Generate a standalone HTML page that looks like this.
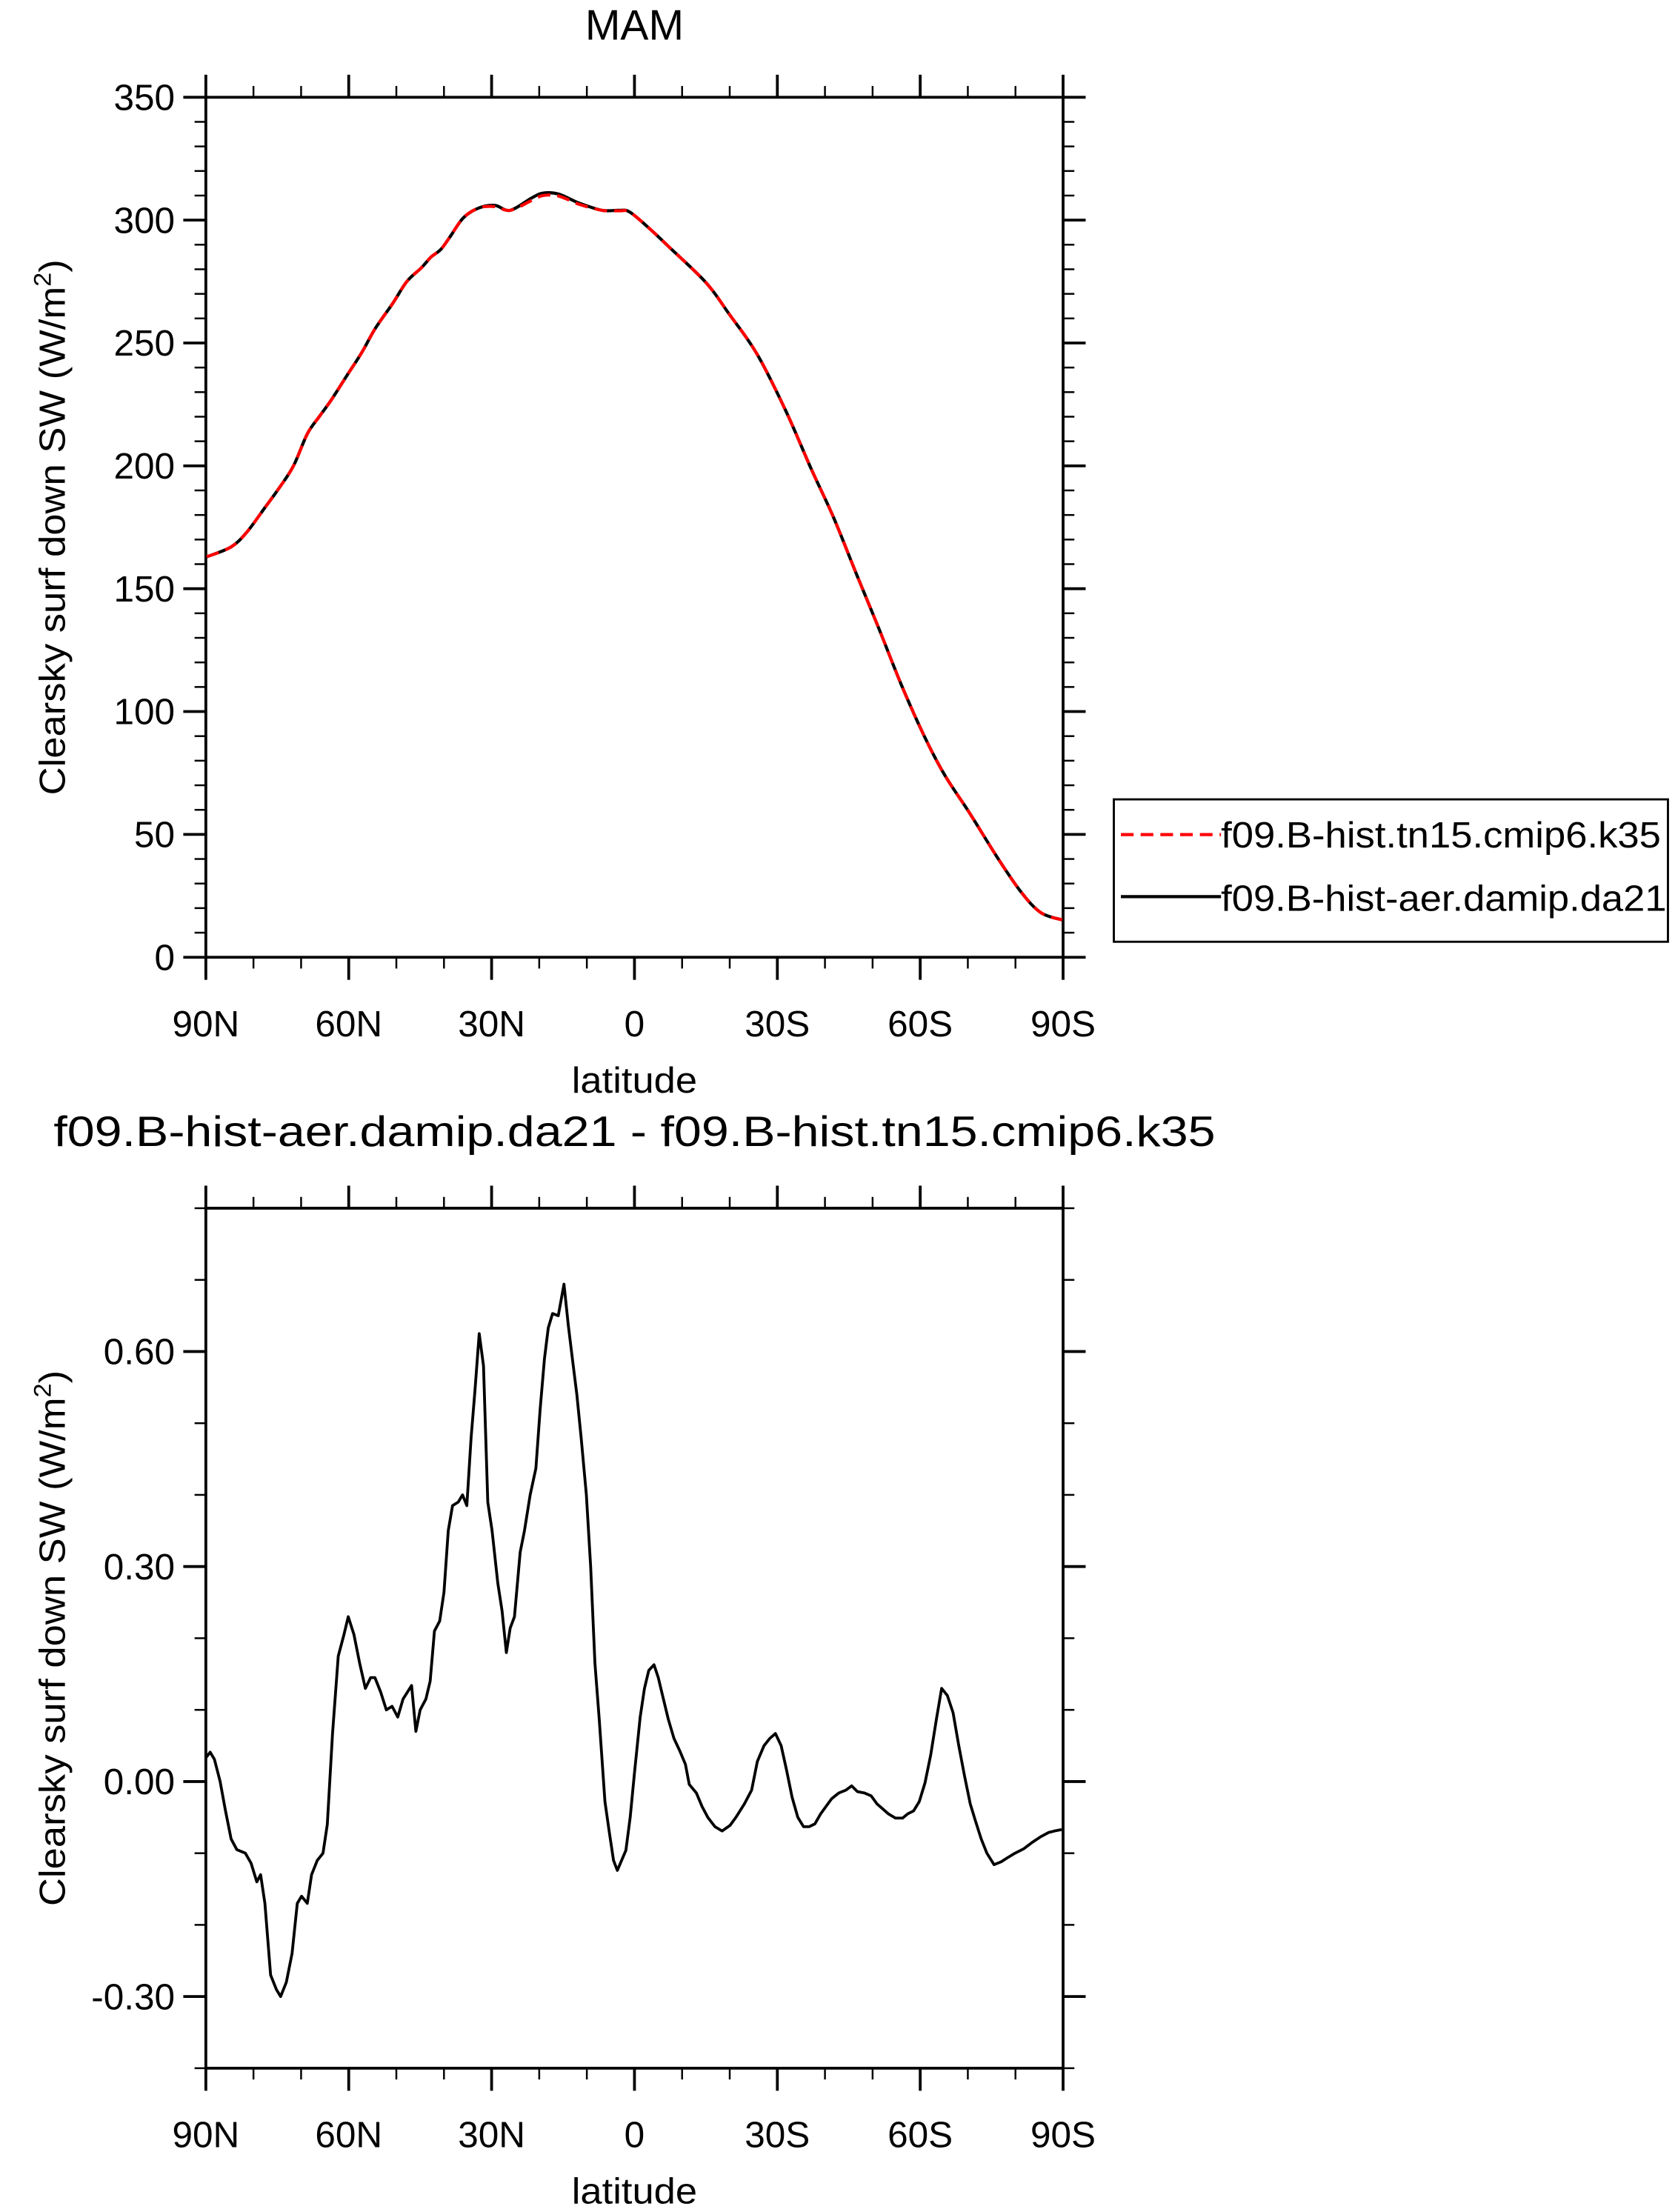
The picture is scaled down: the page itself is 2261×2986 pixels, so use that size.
<!DOCTYPE html>
<html><head><meta charset="utf-8"><style>
html,body{margin:0;padding:0;background:#fff;}
svg{display:block;}
text{font-family:"Liberation Sans",Arial,sans-serif;fill:#000;}
</style></head><body>
<svg id="chart" width="2261" height="2986" viewBox="0 0 1188 1569" preserveAspectRatio="none" xmlns="http://www.w3.org/2000/svg">
<g id="top"></g>
<g id="bot"></g>
</svg>
<script>
const topLat = [89.8,84.7,81.4,77.6,74.6,71.6,68.7,66.2,63.6,60.3,57.3,54.4,50.8,47.8,44.8,42.7,40.7,38.8,35.9,32.6,29.3,26.1,21.6,19.2,15.9,11.7,6.8,3.2,1.0,-3.2,-7.3,-15.0,-19.8,-25.7,-31.7,-37.1,-41.8,-46.6,-51.4,-56.1,-60.9,-65.1,-70.4,-76.4,-81.2,-85.3,-89.8];
const ctlVals = [163,167,173,183,191,200,213,220,227,237,246,256,266,275,280.5,285,288,293,301,305,305.5,304,308,310,309.8,306.5,304,303.8,303.3,296.5,289,274.6,262,245.6,222.7,198.8,179,156,133.4,110.6,89.8,74.3,58.6,40,26.5,18.2,15.2];
const expVals = [163,167,173,183,191,200,213,220,227,237,246,256,266,275,280.5,285,288,293,301,305,306,304,309,311,310.6,307,304,304,303.3,296.5,289,274.6,262,245.6,222.7,198.8,179,156,133.4,110.6,89.8,74.3,58.6,40,26.5,18.2,15.2];
const topYTicks = [0,50,100,150,200,250,300,350];
const xTickLats = [90,60,30,0,-30,-60,-90];
const xTickLabels = ["90N","60N","30N","0","30S","60S","90S"];
const diffLat = [90,89.1,88.2,87.0,85.9,84.7,83.5,81.7,80.5,79.3,78.5,77.6,76.4,75.2,74.3,73.1,71.9,70.8,69.9,68.7,67.8,66.6,65.4,64.5,63.4,62.2,61.0,60.1,58.9,57.7,56.5,55.4,54.5,53.3,52.1,50.9,49.7,48.6,46.8,45.9,45.0,43.8,42.9,42.0,40.9,40.0,39.1,38.2,37.0,36.1,35.2,34.3,33.5,32.6,31.7,30.8,29.9,28.7,27.8,26.9,26.1,25.2,24.0,23.1,21.9,20.7,19.8,18.9,18.1,17.2,16.0,14.8,13.9,13.0,12.1,11.2,10.1,9.2,8.3,7.4,6.2,5.3,4.4,3.6,2.7,1.8,0.9,0.0,-1.2,-2.1,-3.0,-4.1,-5.0,-5.9,-7.1,-8.3,-9.5,-10.7,-11.5,-13.0,-14.2,-15.4,-16.9,-18.4,-20.1,-21.3,-23.1,-24.6,-25.8,-27.2,-28.4,-29.6,-30.8,-31.9,-33.1,-34.3,-35.5,-36.7,-37.9,-39.1,-40.3,-41.4,-42.9,-44.4,-45.6,-46.8,-48.3,-49.7,-50.9,-52.1,-53.3,-54.8,-56.3,-57.4,-58.6,-59.8,-61.0,-62.2,-63.4,-64.5,-65.7,-66.9,-68.1,-69.3,-70.5,-71.6,-72.8,-74.0,-75.5,-77.0,-78.4,-79.9,-81.7,-83.5,-85.3,-87.0,-88.2,-89.7];
const diffVals = [0.033,0.041,0.031,0,-0.04,-0.08,-0.095,-0.1,-0.114,-0.14,-0.13,-0.17,-0.27,-0.29,-0.30,-0.28,-0.24,-0.17,-0.16,-0.17,-0.13,-0.11,-0.1,-0.06,0.067,0.175,0.205,0.23,0.205,0.165,0.13,0.145,0.145,0.125,0.10,0.105,0.09,0.115,0.134,0.07,0.10,0.115,0.14,0.21,0.224,0.264,0.35,0.385,0.39,0.4,0.385,0.48,0.545,0.625,0.58,0.39,0.35,0.277,0.238,0.18,0.214,0.23,0.32,0.35,0.4,0.437,0.52,0.59,0.633,0.653,0.65,0.694,0.637,0.588,0.54,0.48,0.4,0.3,0.165,0.087,-0.028,-0.07,-0.11,-0.124,-0.11,-0.096,-0.05,0.012,0.09,0.13,0.155,0.163,0.145,0.12,0.087,0.06,0.043,0.024,-0.004,-0.016,-0.035,-0.05,-0.063,-0.069,-0.061,-0.05,-0.031,-0.012,0.028,0.05,0.06,0.067,0.05,0.017,-0.022,-0.05,-0.063,-0.063,-0.059,-0.045,-0.034,-0.024,-0.016,-0.012,-0.006,-0.014,-0.016,-0.02,-0.031,-0.038,-0.045,-0.051,-0.051,-0.045,-0.041,-0.028,-0.002,0.037,0.087,0.13,0.12,0.096,0.05,0.008,-0.031,-0.055,-0.08,-0.1,-0.116,-0.112,-0.106,-0.1,-0.094,-0.085,-0.077,-0.071,-0.069,-0.067];
const botYTicks = [-0.3,0,0.3,0.6];
const botYLabels = ["-0.30","0.00","0.30","0.60"];

const NS="http://www.w3.org/2000/svg";
function mk(parent,tag,attrs,txt){const e=document.createElementNS(NS,tag);for(const k in attrs)e.setAttribute(k,attrs[k]);if(txt!==undefined)e.textContent=txt;parent.appendChild(e);return e;}
const X0=146,X1=754;
function xs(lat){return X0+(90-lat)/180*(X1-X0);}
function smoothPath(pts){
  let d='M'+pts[0][0]+','+pts[0][1];
  for(let i=0;i<pts.length-1;i++){
    const p0=pts[Math.max(0,i-1)],p1=pts[i],p2=pts[i+1],p3=pts[Math.min(pts.length-1,i+2)];
    const c1=[p1[0]+(p2[0]-p0[0])/6,p1[1]+(p2[1]-p0[1])/6];
    const c2=[p2[0]-(p3[0]-p1[0])/6,p2[1]-(p3[1]-p1[1])/6];
    d+='C'+c1[0]+','+c1[1]+' '+c2[0]+','+c2[1]+' '+p2[0]+','+p2[1];
  }
  return d;
}

function panel(g,Y0,Y1,vmin,vmax,minorStep,majorTicks,majorLabels,name){
  const ys=v=>Y1-(v-vmin)/(vmax-vmin)*(Y1-Y0);
  const frame=mk(g,'rect',{x:X0,y:Y0,width:X1-X0,height:Y1-Y0,fill:'none',stroke:'#000','stroke-width':2});
  
  
  const n=Math.round((vmax-vmin)/minorStep);
  for(let i=0;i<=n;i++){const v=vmin+i*minorStep;const y=ys(v);
    for(const [xa,d] of [[X0,-1],[X1,1]]){const t=mk(g,'line',{x1:xa,x2:xa+d*8,y1:y,y2:y,stroke:'#000','stroke-width':1.3});
      
      }}
  majorTicks.forEach((v,i)=>{const y=ys(v);
    for(const [xa,d] of [[X0,-1],[X1,1]]){const t=mk(g,'line',{x1:xa,x2:xa+d*16,y1:y,y2:y,stroke:'#000','stroke-width':2});
      
      }
    const l=mk(g,'text',{x:X0-22,y:y+9,'font-size':26,'text-anchor':'end'},majorLabels[i]);
    
    });
  for(let lat=90;lat>=-90;lat-=10){const x=xs(lat);const major=(lat%30===0);const L=major?16:8;
    for(const [ya,d] of [[Y0,-1],[Y1,1]]){const t=mk(g,'line',{x1:x,x2:x,y1:ya,y2:ya+d*L,stroke:'#000','stroke-width':major?2:1.3});
      
      }}
  xTickLats.forEach((lat,i)=>{const l=mk(g,'text',{x:xs(lat),y:Y1+56,'font-size':26,'text-anchor':'middle'},xTickLabels[i]);
    
    });
  const xt=mk(g,'text',{x:450,y:Y1+96,'font-size':26,'text-anchor':'middle',textLength:89,lengthAdjust:'spacingAndGlyphs'},'latitude');
  
  
  const cy=(Y0+Y1)/2;
  const yt=mk(g,'text',{x:0,y:0,'font-size':26,'text-anchor':'middle',textLength:380,lengthAdjust:'spacingAndGlyphs',transform:`translate(46,${cy}) rotate(-90)`});
  
  
  yt.appendChild(document.createTextNode('Clearsky surf down SW (W/m'));
  mk(yt,'tspan',{dy:-10,'font-size':17},'2');
  mk(yt,'tspan',{dy:10},')');
  return ys;
}

const gt=document.getElementById('top');
const ysT=panel(gt,69,679,0,350,10,topYTicks,topYTicks.map(String),'top');
const tt=mk(gt,'text',{x:450,y:28,'font-size':30,'text-anchor':'middle'},'MAM');


const pe=mk(gt,'path',{d:smoothPath(topLat.map((l,i)=>[xs(l),ysT(expVals[i])])),fill:'none',stroke:'#000','stroke-width':2.2,'stroke-linejoin':'round'});


const pc=mk(gt,'path',{d:smoothPath(topLat.map((l,i)=>[xs(l),ysT(ctlVals[i])])),fill:'none',stroke:'#ff0000','stroke-width':2.2,'stroke-dasharray':'9,5','stroke-linejoin':'round'});


const lg=mk(gt,'g',{});


mk(lg,'rect',{x:790,y:567,width:393,height:101,fill:'#fff',stroke:'#000','stroke-width':1.5});
const l1=mk(lg,'line',{x1:795,x2:866,y1:592,y2:592,stroke:'#ff0000','stroke-width':2.2,'stroke-dasharray':'9,5'});


const t1=mk(lg,'text',{x:866,y:601,'font-size':26,textLength:312,lengthAdjust:'spacingAndGlyphs'},'f09.B-hist.tn15.cmip6.k35');


const l2=mk(lg,'line',{x1:795,x2:866,y1:636,y2:636,stroke:'#000','stroke-width':2.2});


const t2=mk(lg,'text',{x:866,y:646,'font-size':26,textLength:316,lengthAdjust:'spacingAndGlyphs'},'f09.B-hist-aer.damip.da21');



const gb=document.getElementById('bot');
const ysB=panel(gb,857,1467,-0.4,0.8,0.1,botYTicks,botYLabels,'bottom');
const bt=mk(gb,'text',{x:450,y:813,'font-size':30,'text-anchor':'middle',textLength:824,lengthAdjust:'spacingAndGlyphs'},'f09.B-hist-aer.damip.da21 - f09.B-hist.tn15.cmip6.k35');


const pd=mk(gb,'path',{d:diffLat.map((l,i)=>(i?'L':'M')+xs(l)+','+ysB(diffVals[i])).join(''),fill:'none',stroke:'#000','stroke-width':2,'stroke-linejoin':'round'});


</script>
</body></html>
